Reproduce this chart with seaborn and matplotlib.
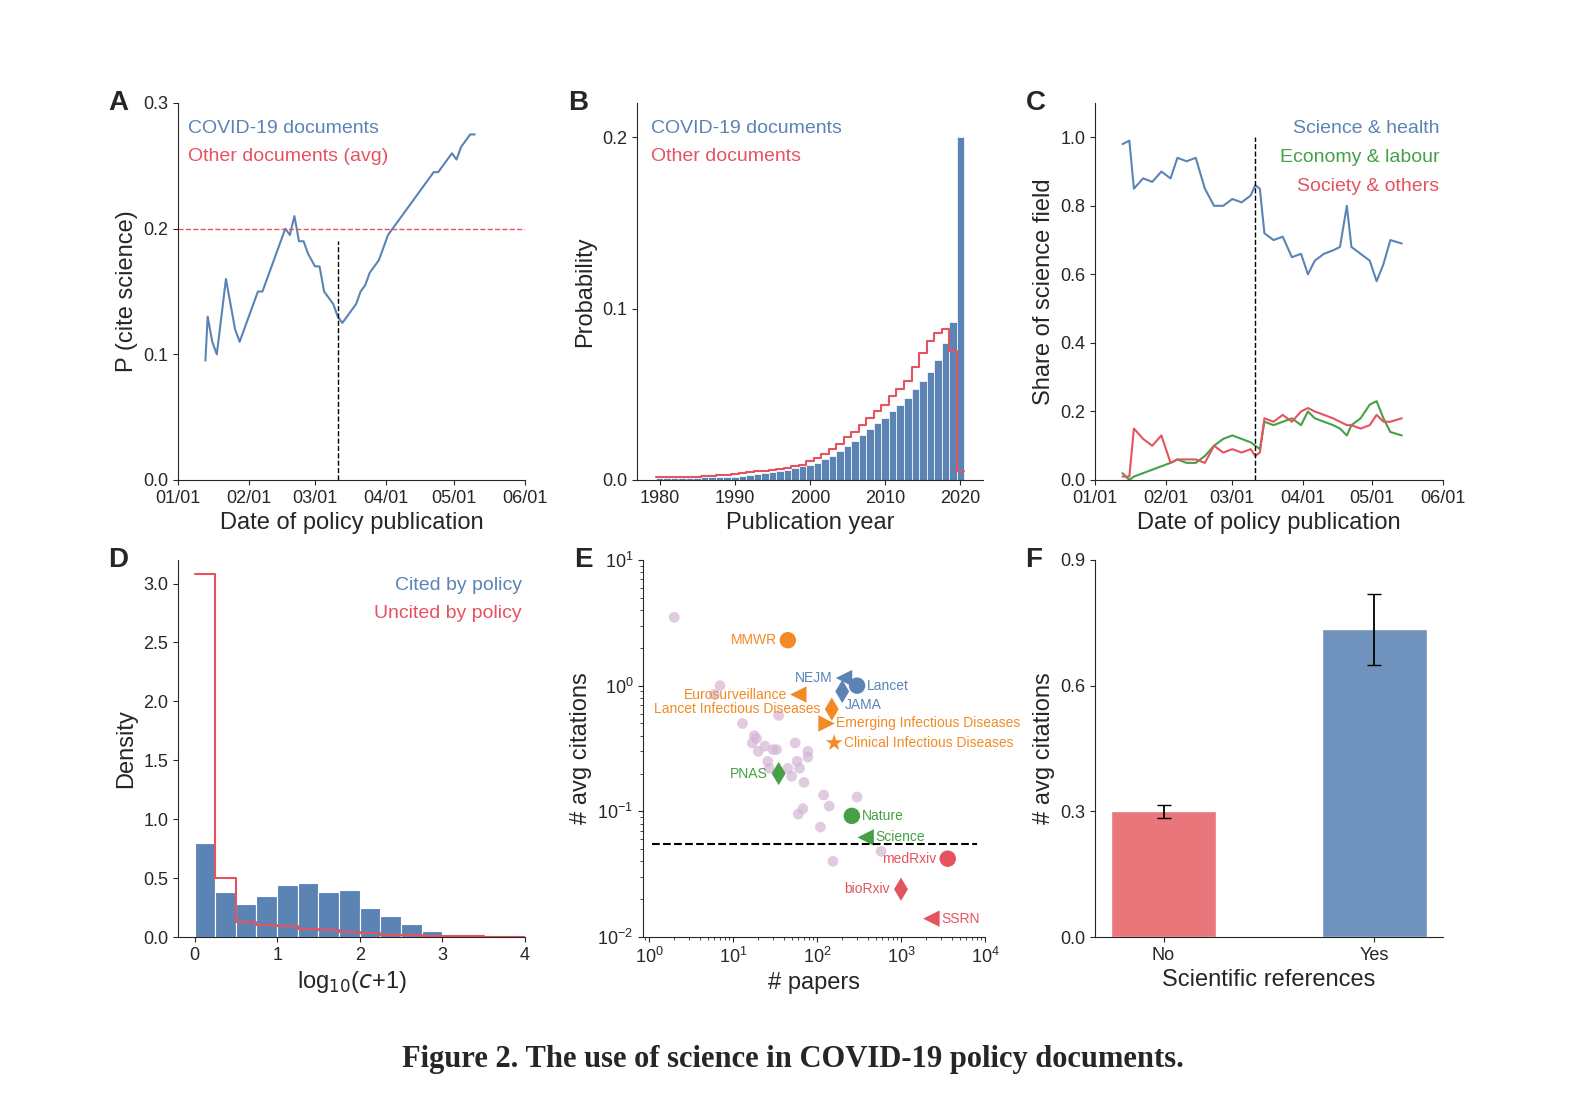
import numpy as np
import pandas as pd
import matplotlib
matplotlib.use("Agg")
import matplotlib.pyplot as plt
import matplotlib.dates as mdates
import seaborn as sns

sns.set_style("ticks")
plt.rcParams['font.family'] = ['Liberation Sans', 'DejaVu Sans']

BLUE = '#5b84b5'; RED = '#e5535f'; GREEN = '#45a046'; ORANGE = '#f28a26'

# Panel A
a_dates = ["01-13","01-14","01-16","01-18","01-20","01-22","01-24","01-26","01-28","01-30",
           "02-01","02-03","02-05","02-07","02-09","02-11","02-13","02-15","02-17","02-19",
           "02-21","02-23","02-25","02-27","03-01","03-03","03-05","03-07","03-09","03-11",
           "03-13","03-15","03-17","03-19","03-21","03-23","03-25","03-27","03-29","03-31",
           "04-02","04-04","04-06","04-08","04-10","04-12","04-14","04-16","04-18","04-20",
           "04-22","04-24","04-26","04-28","04-30","05-02","05-04","05-06","05-08","05-10"]
a_vals = [0.095,0.13,0.11,0.10,0.13,0.16,0.14,0.12,0.11,0.12,
          0.13,0.14,0.15,0.15,0.16,0.17,0.18,0.19,0.20,0.195,
          0.21,0.19,0.19,0.18,0.17,0.17,0.15,0.145,0.14,0.13,
          0.125,0.13,0.135,0.14,0.15,0.155,0.165,0.17,0.175,0.185,
          0.195,0.20,0.205,0.21,0.215,0.22,0.225,0.23,0.235,0.24,
          0.245,0.245,0.25,0.255,0.26,0.255,0.265,0.27,0.275,0.275]
a_other_avg = 0.2

# Panel B
b_years = list(range(1980, 2021))
b_covid = [0.001,0.001,0.001,0.001,0.0012,0.0013,0.0015,0.0016,0.0018,0.002,
           0.002,0.0025,0.003,0.0035,0.004,0.0045,0.005,0.006,0.007,0.008,
           0.009,0.010,0.012,0.014,0.017,0.020,0.023,0.026,0.030,0.033,
           0.036,0.040,0.044,0.048,0.053,0.058,0.063,0.070,0.080,0.092,0.200]
b_other = [0.0015,0.0016,0.0017,0.0018,0.002,0.002,0.0022,0.0025,0.0028,0.003,
           0.0035,0.004,0.0045,0.005,0.0055,0.006,0.0065,0.007,0.008,0.009,
           0.011,0.013,0.015,0.018,0.021,0.025,0.028,0.032,0.036,0.040,
           0.044,0.049,0.053,0.058,0.066,0.074,0.081,0.086,0.088,0.075,0.005]

# Panel C
c_dates = ["01-13","01-16","01-18","01-22","01-26","01-30","02-03","02-06","02-10","02-14",
           "02-18","02-22","02-26","03-01","03-05","03-09","03-11","03-13","03-15","03-19",
           "03-23","03-27","03-31","04-03","04-06","04-10","04-14","04-17","04-20","04-22",
           "04-26","04-30","05-03","05-06","05-09","05-14"]
c_science = [0.98,0.99,0.85,0.88,0.87,0.90,0.88,0.94,0.93,0.94,0.85,0.80,0.80,0.82,0.81,0.83,0.86,0.85,
             0.72,0.70,0.71,0.65,0.66,0.60,0.64,0.66,0.67,0.68,0.80,0.68,0.66,0.64,0.58,0.63,0.70,0.69]
c_economy = [0.02,0.0,0.01,0.02,0.03,0.04,0.05,0.06,0.05,0.05,0.07,0.10,0.12,0.13,0.12,0.11,0.10,0.09,
             0.17,0.16,0.17,0.18,0.16,0.20,0.18,0.17,0.16,0.15,0.13,0.16,0.18,0.22,0.23,0.18,0.14,0.13]
c_society = [0.01,0.01,0.15,0.12,0.10,0.13,0.05,0.06,0.06,0.06,0.05,0.10,0.08,0.09,0.08,0.09,0.07,0.08,
             0.18,0.17,0.19,0.17,0.20,0.21,0.20,0.19,0.18,0.17,0.16,0.16,0.15,0.16,0.19,0.17,0.17,0.18]

# Panel D
d_bins = [0, 0.25, 0.5, 0.75, 1.0, 1.25, 1.5, 1.75, 2.0, 2.25, 2.5, 2.75, 3.0, 3.25, 3.5, 3.75]
d_cited = [0.8,0.38,0.28,0.35,0.44,0.46,0.38,0.40,0.25,0.18,0.11,0.05,0.02,0.01,0.005,0.002]
d_uncited = [3.08,0.5,0.13,0.1,0.09,0.07,0.06,0.04,0.03,0.02,0.015,0.01,0.01,0.005,0.003,0.002]

# Panel E
e_bg_x = [2,6,7,13,17,18,19,20,24,26,27,30,33,35,34,45,50,55,58,60,62,70,68,78,78,110,120,140,155,300,580]
e_bg_y = [3.5,0.85,1.0,0.5,0.35,0.4,0.38,0.3,0.33,0.25,0.22,0.31,0.31,0.58,0.2,0.22,0.19,0.35,0.25,
          0.095,0.22,0.17,0.105,0.3,0.27,0.075,0.135,0.11,0.04,0.13,0.048]
e_names = ["MMWR","NEJM","Lancet","JAMA","Eurosurveillance","Lancet Infectious Diseases",
           "Emerging Infectious Diseases","Clinical Infectious Diseases","PNAS","Nature","Science",
           "medRxiv","bioRxiv","SSRN"]
e_x = [45,210,300,200,60,150,130,160,35,260,380,3600,1000,2300]
e_y = [2.3,1.15,1.0,0.9,0.85,0.65,0.5,0.35,0.2,0.092,0.062,0.042,0.024,0.014]
e_group = ["o","b","b","b","o","o","o","o","g","g","g","r","r","r"]
e_marker = ["o","<","o","d","<","d",">","*","d","o","<","o","d","<"]
e_side = ["l","l","r","r_below","l","l","r","r","l","r","r","l","l","r"]
e_threshold = 0.055

# Panel F
f_cats = ["No", "Yes"]
f_vals = [0.30, 0.735]
f_err = [0.015, 0.085]

fig = plt.figure(figsize=(15.85, 11.17), dpi=100)
W, H = 1585, 1117
def axes(x0, x1, y0, y1):
    return fig.add_axes([x0 / W, 1 - y1 / H, (x1 - x0) / W, (y1 - y0) / H])
axA = axes(178, 525, 103, 480); axB = axes(637, 983, 103, 480); axC = axes(1095, 1443, 103, 480)
axD = axes(178, 525, 560, 937); axE = axes(643, 985, 560, 937); axF = axes(1095, 1443, 560, 937)

TS = 13; LS = 17
def letter(ax, s):
    ax.text(-0.2, 1.0, s, transform=ax.transAxes, fontsize=20, fontweight='bold', va='center')

def date_axis(ax):
    ax.set_xlim(pd.Timestamp("2020-01-01"), pd.Timestamp("2020-06-01"))
    ax.xaxis.set_major_locator(mdates.MonthLocator())
    ax.xaxis.set_major_formatter(mdates.DateFormatter("%m/%d"))

# A
da = pd.to_datetime(["2020-" + d for d in a_dates])
sns.lineplot(x=da, y=a_vals, ax=axA, color=BLUE, lw=1.5)
axA.axhline(a_other_avg, color=RED, ls='--', lw=1)
axA.plot([pd.Timestamp("2020-03-11")] * 2, [0, 0.19], 'k--', lw=1)
date_axis(axA); axA.set_ylim(0, 0.3); axA.set_yticks([0, 0.1, 0.2, 0.3])
axA.set_xlabel("Date of policy publication", fontsize=LS); axA.set_ylabel("P (cite science)", fontsize=LS)
axA.text(0.03, 0.92, "COVID-19 documents", color=BLUE, transform=axA.transAxes, fontsize=14)
axA.text(0.03, 0.845, "Other documents (avg)", color=RED, transform=axA.transAxes, fontsize=14)
letter(axA, "A")

# B
dfB = pd.DataFrame({"year": b_years, "covid": b_covid, "other": b_other})
bins = list(np.arange(1979.5, 2021.5, 1))
sns.histplot(data=dfB, x="year", weights="covid", bins=bins, ax=axB, color=BLUE, alpha=1, edgecolor='white', lw=0.5)
sns.histplot(data=dfB, x="year", weights="other", bins=bins, ax=axB, element='step', fill=False, color=RED, lw=1.5)
axB.set_xlim(1977, 2023); axB.set_ylim(0, 0.22); axB.set_yticks([0, 0.1, 0.2])
axB.set_xticks([1980, 1990, 2000, 2010, 2020])
axB.set_xlabel("Publication year", fontsize=LS); axB.set_ylabel("Probability", fontsize=LS)
axB.text(0.04, 0.92, "COVID-19 documents", color=BLUE, transform=axB.transAxes, fontsize=14)
axB.text(0.04, 0.845, "Other documents", color=RED, transform=axB.transAxes, fontsize=14)
letter(axB, "B")

# C
dc = pd.to_datetime(["2020-" + d for d in c_dates])
sns.lineplot(x=dc, y=c_science, ax=axC, color=BLUE, lw=1.5)
sns.lineplot(x=dc, y=c_economy, ax=axC, color=GREEN, lw=1.5)
sns.lineplot(x=dc, y=c_society, ax=axC, color=RED, lw=1.5)
axC.plot([pd.Timestamp("2020-03-11")] * 2, [0, 1.0], 'k--', lw=1)
date_axis(axC); axC.set_ylim(0, 1.1); axC.set_yticks([0, 0.2, 0.4, 0.6, 0.8, 1.0])
axC.set_xlabel("Date of policy publication", fontsize=LS); axC.set_ylabel("Share of science field", fontsize=LS)
for i, (t, c) in enumerate([("Science & health", BLUE), ("Economy & labour", GREEN), ("Society & others", RED)]):
    axC.text(0.99, 0.92 - 0.077 * i, t, color=c, transform=axC.transAxes, fontsize=14, ha='right')
letter(axC, "C")

# D
dfD = pd.DataFrame({"b": d_bins, "cited": d_cited, "uncited": d_uncited})
dedges = list(d_bins) + [4.0]
sns.histplot(data=dfD, x="b", weights="cited", bins=dedges, ax=axD, color=BLUE, alpha=1, edgecolor='white', lw=0.8)
sns.histplot(data=dfD, x="b", weights="uncited", bins=dedges, ax=axD, element='step', fill=False, color=RED, lw=1.5)
axD.set_xlim(-0.2, 4.0); axD.set_ylim(0, 3.2)
axD.set_yticks([0, 0.5, 1.0, 1.5, 2.0, 2.5, 3.0]); axD.set_xticks([0, 1, 2, 3, 4])
axD.set_xlabel(r"log$_{10}$($c$+1)", fontsize=LS); axD.set_ylabel("Density", fontsize=LS)
axD.text(0.99, 0.92, "Cited by policy", color=BLUE, transform=axD.transAxes, fontsize=14, ha='right')
axD.text(0.99, 0.845, "Uncited by policy", color=RED, transform=axD.transAxes, fontsize=14, ha='right')
letter(axD, "D")

# E
cmap = {"o": ORANGE, "b": BLUE, "g": GREEN, "r": RED}
sns.scatterplot(x=e_bg_x, y=e_bg_y, ax=axE, color='#d4b6d4', alpha=0.7, s=60, edgecolor='none')
for n, x, y, g, m, sd in zip(e_names, e_x, e_y, e_group, e_marker, e_side):
    sns.scatterplot(x=[x], y=[y], ax=axE, color=cmap[g], marker=m, s=140 if m != '*' else 160, edgecolor='none')
    if sd == "l":
        axE.annotate(n, (x, y), xytext=(-8, 0), textcoords='offset points', ha='right', va='center', color=cmap[g], fontsize=10)
    elif sd == "r_below":
        axE.annotate(n, (x, y), xytext=(2, -10), textcoords='offset points', ha='left', va='center', color=cmap[g], fontsize=10)
    else:
        axE.annotate(n, (x, y), xytext=(7, 0), textcoords='offset points', ha='left', va='center', color=cmap[g], fontsize=10)
axE.plot([1.1, 8000], [e_threshold] * 2, 'k--', lw=1.5)
axE.set_xscale('log'); axE.set_yscale('log')
axE.set_xlim(0.85, 1e4); axE.set_ylim(0.01, 10)
axE.set_xlabel("# papers", fontsize=LS); axE.set_ylabel("# avg citations", fontsize=LS)
letter(axE, "E")

# F
sns.barplot(x=f_cats, y=f_vals, ax=axF, palette=['#e8767a', '#6f93bd'], hue=f_cats, legend=False, width=0.5, saturation=1)
axF.errorbar([0, 1], f_vals, yerr=f_err, fmt='none', ecolor='black', capsize=5, lw=1.3)
axF.set_ylim(0, 0.9); axF.set_yticks([0, 0.3, 0.6, 0.9])
axF.set_xlabel("Scientific references", fontsize=LS); axF.set_ylabel("# avg citations", fontsize=LS)
letter(axF, "F")

for ax in [axA, axB, axC, axD, axE, axF]:
    sns.despine(ax=ax)
    ax.tick_params(labelsize=TS)

fig.text(0.5, 0.045, "Figure 2. The use of science in COVID-19 policy documents.", ha='center',
         fontsize=22, fontweight='bold', family='Liberation Serif')
fig.savefig("out.png", dpi=100, facecolor='white')
